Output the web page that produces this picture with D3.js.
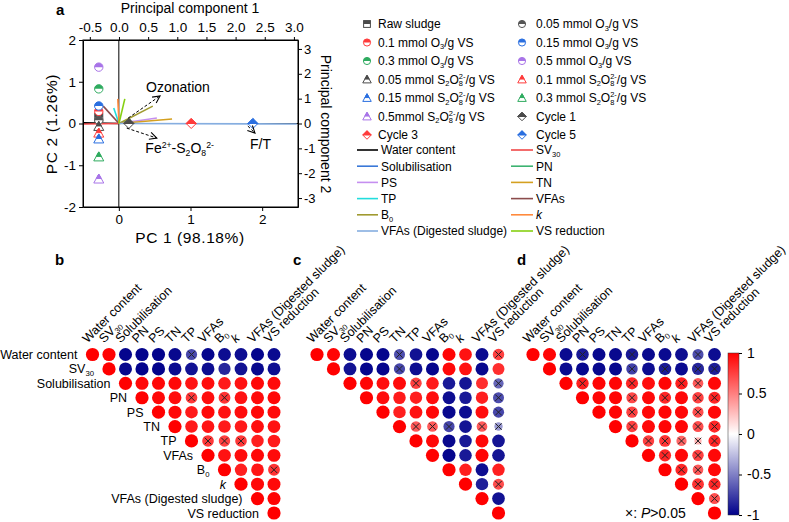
<!DOCTYPE html>
<html><head><meta charset="utf-8">
<script src="https://cdn.jsdelivr.net/npm/d3@7"></script>
<style>body{margin:0;background:#fff}svg{font-family:"Liberation Sans",Arial,sans-serif}</style>
</head><body><svg id="c" width="789" height="522"></svg>
<script>
// ---------------- DATA ----------------
const varLabels = ["Water content","SV_{30}","Solubilisation","PN","PS","TN","TP","VFAs","B_{0}","*k*","VFAs (Digested sludge)","VS reduction"];
const varColors = ["#000000","#f04848","#3a78d8","#3cb371","#c58ff0","#d4a020","#22dddd","#8b4c4c","#a09a30","#ff8a3d","#86aee0","#86d012"];
// PCA loadings (top / right axes)
const loadPC1 = [-0.6,-0.6,0.25,0.2,0.65,0.91,-0.09,-0.27,0.58,-0.02,3.05,0.1];
const loadPC2 = [0.03,-0.02,0.08,0.15,0.22,0.18,0.62,0.7,0.7,0.99,-0.02,0.99];

const sampleLabels = ["Raw sludge","0.05 mmol O_{3}/g VS","0.1 mmol O_{3}/g VS","0.15 mmol O_{3}/g VS","0.3 mmol O_{3}/g VS","0.5 mmol O_{3}/g VS",
 "0.05 mmol S_{2}O_{8}^^{2-}/g VS","0.1 mmol S_{2}O_{8}^^{2-}/g VS","0.15 mmol S_{2}O_{8}^^{2-}/g VS","0.3 mmol S_{2}O_{8}^^{2-}/g VS","0.5mmol S_{2}O_{8}^^{2-}/g VS",
 "Cycle 1","Cycle 3","Cycle 5"];
const sampleShapes = ["square","circle","circle","circle","circle","circle","triangle","triangle","triangle","triangle","triangle","diamond","diamond","diamond"];
const sampleColors = ["#4a4a4a","#555555","#ff3b3b","#2a6fe0","#2eab5f","#a874e8","#4a4a4a","#ff3b3b","#2a6fe0","#2eab5f","#a874e8","#4a4a4a","#ff3b3b","#2a6fe0"];
const samplePC1 = [-0.28,-0.28,-0.28,-0.28,-0.28,-0.28,-0.28,-0.28,-0.28,-0.28,-0.28,0.14,1.01,1.87];
const samplePC2 = [0.15,0.08,0.29,0.42,0.83,1.35,-0.07,-0.23,-0.37,-0.8,-1.33,0.0,0.0,0.0];

const arrowLabels = ["Ozonation","Fe^{2+}-S_{2}O_{8}^{2-}","F/T"];
const arrowX0 = [0.13,0.11,1.8], arrowY0 = [0.13,-0.11,-0.06];
const arrowX1 = [0.575,0.53,1.9], arrowY1 = [0.66,-0.35,-0.23];
const arrowLabelX = [0.38,0.37,1.83], arrowLabelY = [0.75,-0.71,-0.61];

const pc1BottomTicks = [0,1,2];
const pc2LeftTicks = [-2,-1,0,1,2];
const pc1TopTicks = [-0.5,0,0.5,1,1.5,2,2.5,3];
const pc2RightTicks = [-3,-2,-1,0,1,2,3];
const cbarTicks = [-1,-0.5,0,0.5,1];

// correlation matrices: upper triangle rows starting at the diagonal
const corrB = [
 [1,0.99,-0.98,-0.99,-0.99,-0.97,-0.72,-0.98,-0.95,-0.95,-0.98,-0.96],
 [1,-0.97,-0.99,-0.99,-0.96,-0.93,-0.95,-0.85,-0.93,-0.97,-0.95],
 [1,0.97,0.97,0.97,0.92,0.95,0.9,0.93,0.97,0.96],
 [1,0.97,0.95,0.78,0.95,0.8,0.93,0.96,0.97],
 [1,0.97,0.9,0.97,0.93,0.95,0.97,0.96],
 [1,0.9,0.92,0.9,0.9,0.95,0.93],
 [1,0.78,0.75,0.78,0.88,0.9],
 [1,0.93,0.95,0.97,0.96],
 [1,0.88,0.92,0.8],
 [1,0.97,0.96],
 [1,0.98],
 [1]];
const nsB = [[0,6],[3,6],[3,8],[6,7],[6,8],[6,9],[8,11]];
const corrC = [
 [1,0.98,-0.95,-0.98,-0.98,-0.7,-0.93,-0.98,0.98,0.93,-0.96,0.75],
 [1,-0.93,-0.98,-0.98,-0.72,-0.95,-0.98,0.97,0.93,-0.97,0.82],
 [1,0.98,0.95,0.96,0.75,0.9,-0.9,-0.92,0.82,-0.6],
 [1,0.95,0.9,0.88,0.95,-0.95,-0.9,0.88,-0.7],
 [1,0.88,0.93,0.97,-0.97,-0.95,0.95,-0.72],
 [1,0.65,0.65,-0.72,-0.92,0.65,-0.4],
 [1,0.97,-0.97,-0.9,0.97,-0.92],
 [1,-0.98,-0.9,0.98,-0.92],
 [1,0.88,-0.95,0.88],
 [1,-0.88,0.7],
 [1,-0.93],
 [1]];
const nsC = [[0,5],[0,11],[1,5],[2,6],[2,11],[3,11],[4,11],[5,6],[5,7],[5,8],[5,10],[5,11],[9,11]];
const corrD = [
 [1,0.98,-0.96,-0.9,-0.97,-0.97,-0.9,-0.97,-0.96,-0.95,-0.7,-0.95],
 [1,-0.96,-0.97,-0.97,-0.97,-0.75,-0.95,-0.9,-0.96,-0.85,-0.88],
 [1,0.88,0.98,0.98,0.85,0.95,0.98,0.88,0.65,0.97],
 [1,0.98,0.98,0.72,0.97,0.85,0.97,0.75,0.85],
 [1,0.98,0.75,0.97,0.98,0.97,0.7,0.97],
 [1,0.75,0.97,0.98,0.97,0.7,0.85],
 [1,0.75,0.8,0.6,0.3,0.85],
 [1,0.85,0.97,0.75,0.97],
 [1,0.85,0.65,0.97],
 [1,0.8,0.85],
 [1,0.7],
 [1]];
const nsD = [[0,3],[0,6],[0,10],[1,6],[1,8],[1,10],[1,11],[2,3],[2,6],[2,9],[2,10],[3,6],[3,8],[3,10],[3,11],[4,6],[4,10],[5,6],[5,10],[5,11],[6,7],[6,8],[6,9],[6,10],[6,11],[7,8],[7,10],[8,9],[8,10],[9,10],[9,11],[10,11]];

// ---------------- HELPERS ----------------
const FF = '"Liberation Sans",Arial,sans-serif';
const svg = d3.select("#c");
function rich(sel, str, fs) {
  const re = /(\^\^\{[^}]*\}|_\{[^}]*\}|\^\{[^}]*\}|\*[^*]+\*)/g;
  const parts = str.split(re).filter(s => s && s.length);
  let shift = 0;
  parts.forEach(p => {
    let t, dy = 0, size = fs, ital = false, dx = 0;
    if (p.startsWith("^^{")) { t = p.slice(3,-1); size = fs*0.62; dy = -fs*0.42; dx = -fs*0.62*0.556; }
    else if (p.startsWith("_{")) { t = p.slice(2,-1); size = fs*0.62; dy = fs*0.22; }
    else if (p.startsWith("^{")) { t = p.slice(2,-1); size = fs*0.62; dy = -fs*0.4; }
    else if (p.startsWith("*")) { t = p.slice(1,-1); ital = true; }
    else t = p;
    const ts = sel.append("tspan").text(t).attr("font-size", size).attr("dy", (dy - shift).toFixed(2));
    if (dx) ts.attr("dx", dx.toFixed(2));
    if (ital) ts.attr("font-style","italic");
    shift = dy;
  });
}
function marker(g, shape, color, s) {
  const sw = 1;
  if (shape === "circle") {
    const r = 4.2*s;
    g.append("circle").attr("r", r).attr("fill","#fff").attr("stroke",color).attr("stroke-width",sw);
    g.append("path").attr("d",`M${-r},0A${r},${r} 0 0 1 ${r},0Z`).attr("fill",color);
  } else if (shape === "square") {
    const h = 4*s;
    g.append("rect").attr("x",-h).attr("y",-h).attr("width",2*h).attr("height",2*h).attr("fill","#fff").attr("stroke",color).attr("stroke-width",sw);
    g.append("rect").attr("x",-h).attr("y",-h).attr("width",2*h).attr("height",h).attr("fill",color);
  } else if (shape === "triangle") {
    const a = -5*s, b = 4*s, w = 5*s, m = (a+b)/2, hw = w*(m-a)/(b-a);
    g.append("path").attr("d",`M0,${a}L${w},${b}L${-w},${b}Z`).attr("fill","#fff").attr("stroke",color).attr("stroke-width",sw);
    g.append("path").attr("d",`M0,${a}L${hw},${m}L${-hw},${m}Z`).attr("fill",color).attr("stroke",color).attr("stroke-width",sw);
  } else if (shape === "diamond") {
    const r = 5*s;
    g.append("path").attr("d",`M0,${-r}L${r},0L0,${r}L${-r},0Z`).attr("fill","#fff").attr("stroke",color).attr("stroke-width",sw);
    g.append("path").attr("d",`M0,${-r}L${r},0L${-r},0Z`).attr("fill",color).attr("stroke",color).attr("stroke-width",sw);
  }
}

// ---------------- PANEL A ----------------
const xB = d3.scaleLinear().domain([-0.5,2.5]).range([83,298]);
const yL = d3.scaleLinear().domain([-2,2]).range([207,40]);
const xT = d3.scaleLinear().domain([-0.617,3.07]).range([83,298]);
const yR = d3.scaleLinear().domain([-3.36,3.36]).range([207,40]);
const A = svg.append("g");
const defs = svg.append("defs");
defs.append("clipPath").attr("id","clipA").append("rect").attr("x",83).attr("y",40).attr("width",215).attr("height",167);
defs.append("marker").attr("id","openArrow").attr("viewBox","0 0 10 10").attr("refX",9).attr("refY",5)
  .attr("markerWidth",9).attr("markerHeight",9).attr("markerUnits","userSpaceOnUse").attr("orient","auto")
  .append("path").attr("d","M1,1L9,5L1,9").attr("fill","none").attr("stroke","#000").attr("stroke-width",1.2);

function axisStyle(g, fs) {
  g.attr("font-size", fs).attr("font-family", FF);
  g.selectAll("text").attr("fill","#000");
  g.selectAll("line,path").attr("stroke","#000");
}
A.append("g").attr("transform","translate(83,0)")
  .call(d3.axisLeft(yL).tickValues(pc2LeftTicks).tickFormat(d => String(d)).tickSize(4).tickSizeOuter(0).tickPadding(3))
  .call(g => axisStyle(g, 13.5));
A.append("g").attr("transform","translate(0,207)")
  .call(d3.axisBottom(xB).tickValues(pc1BottomTicks).tickFormat(d => String(d)).tickSize(4).tickSizeOuter(0).tickPadding(3))
  .call(g => axisStyle(g, 13.5));
A.append("g").attr("transform","translate(0,40)")
  .call(d3.axisTop(xT).tickValues(pc1TopTicks).tickFormat(d => d.toFixed(1)).tickSize(3).tickSizeOuter(0).tickPadding(5))
  .call(g => axisStyle(g, 13.5));
A.append("g").attr("transform","translate(298,0)")
  .call(d3.axisRight(yR).tickValues(pc2RightTicks).tickFormat(d => String(d)).tickSize(4).tickSizeOuter(0).tickPadding(2))
  .call(g => axisStyle(g, 13));
A.append("rect").attr("x",83).attr("y",40).attr("width",215).attr("height",167).attr("fill","none").attr("stroke","#000").attr("stroke-width",1);
A.append("line").attr("x1",xB(0)).attr("x2",xB(0)).attr("y1",40).attr("y2",207).attr("stroke","#000");
A.append("line").attr("x1",83).attr("x2",298).attr("y1",yL(0)).attr("y2",yL(0)).attr("stroke","#000");

const plotA = A.append("g").attr("clip-path","url(#clipA)");
// loadings
varLabels.forEach((v,i) => {
  plotA.append("line").attr("x1",xT(0)).attr("y1",yR(0)).attr("x2",xT(loadPC1[i])).attr("y2",yR(loadPC2[i]))
    .attr("stroke",varColors[i]).attr("stroke-width",1.6);
});
// samples
sampleLabels.forEach((s,i) => {
  const g = plotA.append("g").attr("transform",`translate(${xB(samplePC1[i])},${yL(samplePC2[i])})`);
  marker(g, sampleShapes[i], sampleColors[i], 1);
});
// dashed arrows
arrowLabels.forEach((t,i) => {
  A.append("line").attr("x1",xB(arrowX0[i])).attr("y1",yL(arrowY0[i])).attr("x2",xB(arrowX1[i])).attr("y2",yL(arrowY1[i]))
    .attr("stroke","#000").attr("stroke-width",1).attr("stroke-dasharray","3,2").attr("marker-end","url(#openArrow)");
  const tx = A.append("text").attr("x",xB(arrowLabelX[i])).attr("y",yL(arrowLabelY[i])).attr("font-size",14);
  rich(tx, t, 14);
});
// titles
A.append("text").attr("x",56).attr("y",15).attr("font-size",15).attr("font-weight","bold").text("a");
A.append("text").attr("x",190).attr("y",13).attr("font-size",14).attr("text-anchor","middle").text("Principal component 1");
A.append("text").attr("x",190).attr("y",243).attr("font-size",15.5).attr("text-anchor","middle").attr("letter-spacing",0.6).text("PC 1 (98.18%)");
A.append("text").attr("transform","translate(57,124) rotate(-90)").attr("font-size",15.5).attr("text-anchor","middle").attr("letter-spacing",0.6).text("PC 2 (1.26%)");
A.append("text").attr("transform","translate(321,124) rotate(90)").attr("font-size",14).attr("text-anchor","middle").text("Principal component 2");

// legend: samples
const legIconX = [367,522], legTextX = [378,536];
sampleLabels.forEach((s,i) => {
  const c = i % 2, r = Math.floor(i/2), y = 24 + r*18.5;
  const g = A.append("g").attr("transform",`translate(${legIconX[c]},${y})`);
  marker(g, sampleShapes[i], sampleColors[i], 0.85);
  const t = A.append("text").attr("x",legTextX[c]).attr("y",y+4.3).attr("font-size",12);
  rich(t, s, 12);
});
// legend: variables
const lineX0 = [357,511], lineX1 = [378,533], lineTextX = [381,536];
varLabels.forEach((v,i) => {
  const c = i % 2, r = Math.floor(i/2), y = 150 + r*16.2;
  A.append("line").attr("x1",lineX0[c]).attr("x2",lineX1[c]).attr("y1",y).attr("y2",y).attr("stroke",varColors[i]).attr("stroke-width",1.6);
  const t = A.append("text").attr("x",lineTextX[c]).attr("y",y+4.3).attr("font-size",12);
  rich(t, v, 12);
});

// ---------------- CORRELATION PANELS ----------------
const color = d3.scaleLinear().domain([-1,0,1]).range(["#00008b","#ffffff","#ff0000"]);
const ys = d3.scalePoint().domain(d3.range(12)).range([354.5,513]);
function drawCorr(x0, mat, ns, letter, letterX, rowLabels) {
  const G = svg.append("g");
  const xs = d3.scalePoint().domain(d3.range(12)).range([x0, x0 + 11*16.5]);
  const R = 6.6;
  const nsSet = new Set(ns.map(d => d[0]+"-"+d[1]));
  mat.forEach((row,i) => {
    row.forEach((v,k) => {
      const j = i + k;
      G.append("circle").attr("cx",xs(j)).attr("cy",ys(i)).attr("r",R*Math.sqrt(Math.abs(v))).attr("fill",color(v));
      if (nsSet.has(i+"-"+j)) {
        const cx = xs(j), cy = ys(i), h = 3.2;
        G.append("path").attr("d",`M${cx-h},${cy-h}L${cx+h},${cy+h}M${cx+h},${cy-h}L${cx-h},${cy+h}`).attr("stroke","#222").attr("stroke-width",1);
      }
    });
  });
  varLabels.forEach((v,j) => {
    const t = G.append("text").attr("transform",`translate(${xs(j)-5},${ys(0)-11}) rotate(-45)`).attr("font-size",12.5);
    rich(t, v, 12.5);
  });
  if (rowLabels) {
    varLabels.forEach((v,i) => {
      const t = G.append("text").attr("x",xs(i)-15).attr("y",ys(i)+4.5).attr("font-size",12.5).attr("text-anchor","end");
      rich(t, v, 12.5);
    });
  }
  G.append("text").attr("x",letterX).attr("y",265).attr("font-size",15).attr("font-weight","bold").text(letter);
}
drawCorr(92.5, corrB, nsB, "b", 55, true);
drawCorr(317, corrC, nsC, "c", 293, false);
drawCorr(533, corrD, nsD, "d", 517, false);

// colorbar
const grad = defs.append("linearGradient").attr("id","cbar").attr("x1",0).attr("x2",0).attr("y1",1).attr("y2",0);
d3.range(0,1.0001,0.1).forEach(t => grad.append("stop").attr("offset",t).attr("stop-color",color(-1+2*t)));
const cb = d3.scaleLinear().domain([-1,1]).range([515,353]);
svg.append("rect").attr("x",728).attr("y",353).attr("width",11).attr("height",162).attr("fill","url(#cbar)").attr("stroke","#333").attr("stroke-width",0.5);
svg.append("g").attr("transform","translate(739,0)")
  .call(d3.axisRight(cb).tickValues(cbarTicks).tickFormat(d => String(d)).tickSize(3).tickSizeOuter(0).tickPadding(5))
  .call(g => { axisStyle(g, 14); g.select(".domain").remove(); });
const nt = svg.append("text").attr("x",625).attr("y",518).attr("font-size",14);
nt.append("tspan").text("×: ");
nt.append("tspan").attr("font-style","italic").text("P");
nt.append("tspan").text(">0.05");
</script></body></html>
